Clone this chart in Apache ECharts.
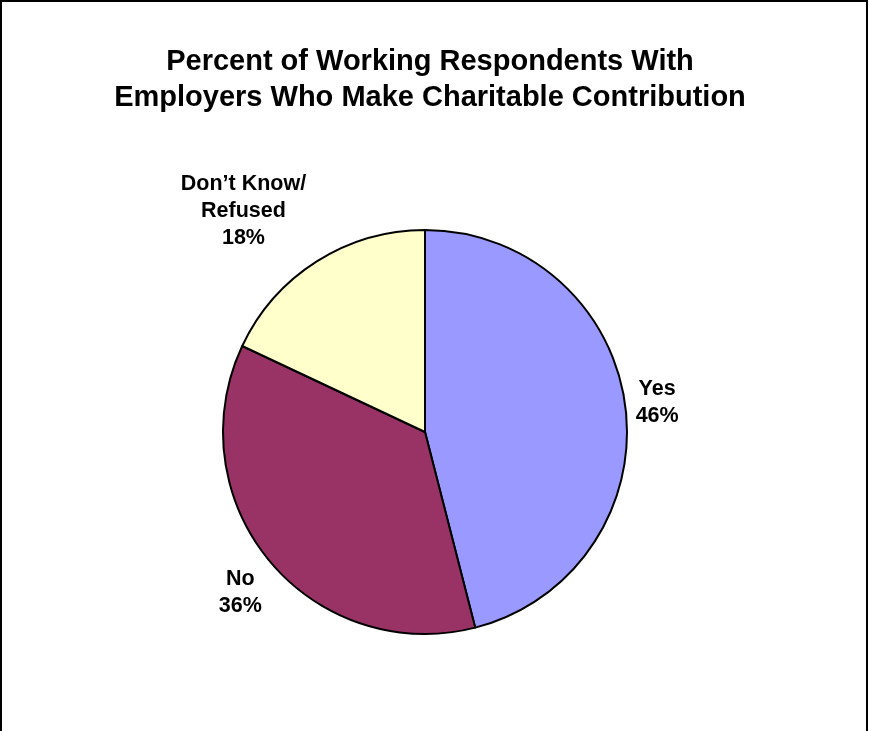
<!DOCTYPE html>
<html><head><meta charset="utf-8">
<script src="https://cdn.jsdelivr.net/npm/echarts@6/dist/echarts.min.js"></script>
<style>html,body{margin:0;padding:0;background:#fff}#c{width:869px;height:731px}</style>
</head><body><div id="c"></div>
<script>
const titleText = 'Percent of Working Respondents With\nEmployers Who Make Charitable Contribution';
const categories = ['Yes', 'No', 'Don\u2019t Know/\nRefused'];
const values = [46, 36, 18];
const colors = ['#9999FF', '#993366', '#FFFFCC'];

const CX = 425, CY = 432, R = 202;
// label placement: distance from centre and small angular nudge (degrees)
const labelDist = [234, 245, 286];
const labelNudge = [0, -1.5, -7];

const total = values.reduce((a, b) => a + b, 0);
const midAngles = [];
let acc = 0;
values.forEach(v => { midAngles.push((acc + v / 2) / total * 360); acc += v; });

const chart = echarts.init(document.getElementById('c'));
chart.setOption({
  animation: false,
  backgroundColor: '#fff',
  title: {
    text: titleText, left: 425, top: 39, textAlign: 'center',
    textStyle: { fontFamily: 'Liberation Sans', fontWeight: 'bold', fontSize: 29, color: '#000', lineHeight: 36 }
  },
  graphic: [{
    type: 'rect', shape: { x: 1, y: 1, width: 866, height: 780 },
    style: { fill: 'none', stroke: '#000', lineWidth: 2 }, silent: true
  }],
  series: [{
    type: 'pie',
    center: [CX, CY],
    radius: R,
    startAngle: 90,
    clockwise: true,
    data: categories.map((c, i) => ({ name: c, value: values[i], itemStyle: { color: colors[i] } })),
    itemStyle: { borderColor: '#000', borderWidth: 2 },
    label: {
      show: true, position: 'outside',
      formatter: p => p.name + '\n' + p.value + '%',
      fontFamily: 'Liberation Sans', fontWeight: 'bold', fontSize: 21.5, lineHeight: 27, color: '#000',
      align: 'center'
    },
    labelLine: { show: false },
    labelLayout: function (p) {
      const i = p.dataIndex;
      const a = (midAngles[i] + labelNudge[i]) * Math.PI / 180;
      return {
        x: CX + labelDist[i] * Math.sin(a),
        y: CY - labelDist[i] * Math.cos(a),
        align: 'center', verticalAlign: 'middle'
      };
    }
  }]
});
</script></body></html>
